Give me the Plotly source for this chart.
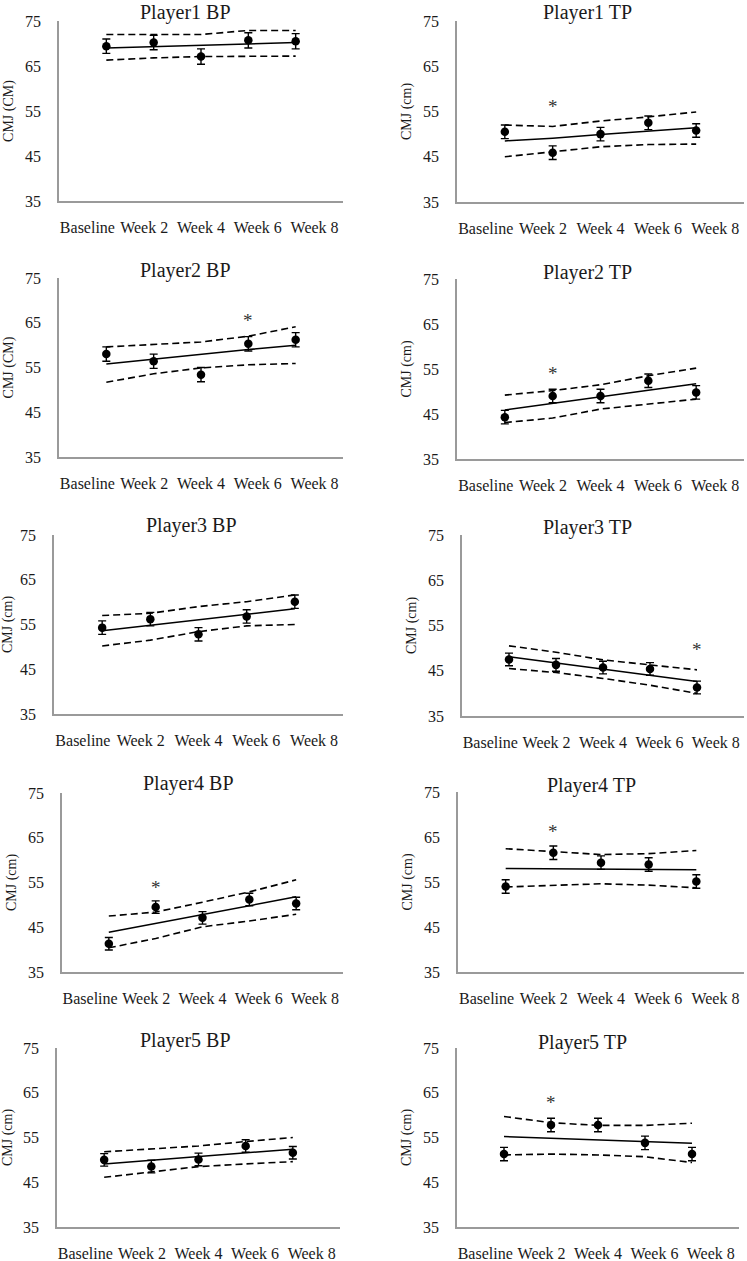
import plotly.graph_objects as go

# ---------------- data ----------------
weeks = ["Baseline", "Week 2", "Week 4", "Week 6", "Week 8"]

panel_titles = ["Player1 BP", "Player1 TP", "Player2 BP", "Player2 TP",
                "Player3 BP", "Player3 TP", "Player4 BP", "Player4 TP",
                "Player5 BP", "Player5 TP"]
y_titles = ["CMJ (CM)", "CMJ (cm)", "CMJ (CM)", "CMJ (cm)", "CMJ (cm)",
            "CMJ (cm)", "CMJ (cm)", "CMJ (cm)", "CMJ (cm)", "CMJ (cm)"]

# mean CMJ per week (cm)
means = [
    [69.4, 70.2, 67.1, 70.7, 70.5],   # Player1 BP
    [50.5, 45.9, 50.0, 52.5, 50.8],   # Player1 TP
    [58.0, 56.4, 53.4, 60.3, 61.2],   # Player2 BP
    [44.3, 49.0, 49.0, 52.4, 49.8],   # Player2 TP
    [54.3, 56.2, 52.8, 56.8, 60.1],   # Player3 BP
    [47.5, 46.3, 45.7, 45.4, 41.3],   # Player3 TP
    [41.3, 49.5, 47.1, 51.2, 50.3],   # Player4 BP
    [54.0, 61.5, 59.3, 58.9, 55.1],   # Player4 TP
    [50.0, 48.5, 50.1, 53.1, 51.6],   # Player5 BP
    [51.3, 57.8, 57.8, 53.8, 51.3],   # Player5 TP
]
# error (+/-)
errors = [
    [1.6, 1.6, 1.7, 1.7, 1.7],
    [1.5, 1.5, 1.5, 1.5, 1.5],
    [1.6, 1.6, 1.6, 1.6, 1.6],
    [1.5, 1.5, 1.5, 1.5, 1.5],
    [1.5, 1.5, 1.5, 1.5, 1.5],
    [1.4, 1.4, 1.4, 1.4, 1.4],
    [1.4, 1.4, 1.4, 1.4, 1.4],
    [1.5, 1.5, 1.5, 1.5, 1.5],
    [1.4, 1.4, 1.4, 1.4, 1.4],
    [1.5, 1.5, 1.5, 1.5, 1.5],
]
# regression (trend) line
trend = [
    [69.0, 69.3, 69.6, 69.9, 70.2],
    [48.5, 49.1, 49.9, 50.7, 51.4],
    [55.8, 56.9, 57.9, 59.0, 60.0],
    [45.9, 47.4, 48.8, 50.3, 51.7],
    [53.6, 54.8, 56.0, 57.3, 58.5],
    [48.1, 46.7, 45.3, 44.0, 42.6],
    [43.9, 45.9, 47.9, 49.8, 51.8],
    [58.0, 57.9, 57.9, 57.8, 57.7],
    [49.1, 49.9, 50.8, 51.6, 52.4],
    [55.2, 54.8, 54.5, 54.1, 53.7],
]
# upper confidence band
upper = [
    [72.0, 72.0, 72.0, 72.9, 72.9],
    [52.0, 51.7, 52.9, 53.8, 54.9],
    [59.6, 60.1, 60.7, 62.0, 64.1],
    [49.2, 50.2, 51.5, 53.5, 55.2],
    [57.0, 57.5, 59.0, 60.1, 61.6],
    [50.5, 49.1, 47.4, 46.3, 45.2],
    [47.5, 48.4, 50.6, 52.9, 55.6],
    [62.4, 61.7, 61.1, 61.3, 62.0],
    [51.8, 52.4, 53.1, 54.1, 55.0],
    [59.7, 58.3, 57.7, 57.7, 58.2],
]
# lower confidence band
lower = [
    [66.3, 66.8, 67.1, 67.2, 67.2],
    [45.0, 46.1, 47.2, 47.7, 47.8],
    [51.7, 53.6, 54.9, 55.6, 55.9],
    [43.1, 44.1, 46.1, 47.2, 48.3],
    [50.2, 51.5, 53.4, 54.7, 55.0],
    [45.5, 44.6, 43.3, 41.8, 40.0],
    [40.4, 42.5, 45.1, 46.4, 47.9],
    [53.9, 54.3, 54.6, 54.3, 53.7],
    [46.1, 47.3, 48.5, 49.1, 49.6],
    [51.1, 51.3, 51.1, 50.7, 49.4],
]
# significance markers
star_week = [None, "Week 2", "Week 6", "Week 2", None, "Week 8", "Week 2", "Week 2", None, "Week 2"]
star_y = [None, 57.3, 66.7, 55.2, None, 50.9, 55.1, 67.4, None, 64.0]

y_ticks = [35, 45, 55, 65, 75]

# ---------------- layout geometry (pixels) ----------------
W, H = 747, 1261
axis_px = [(59, 343, 21, 201), (457, 744, 21, 202),
           (59, 343, 278, 457), (457, 744, 279, 459),
           (54, 343, 535, 714), (462, 744, 535, 716),
           (62, 343, 793, 972), (458, 744, 792, 972),
           (57, 340, 1048, 1227), (457, 739, 1048, 1227)]
title_px = [(185, 13), (587, 13), (185, 270), (587, 272), (192, 525),
            (587, 527), (188, 783), (591, 785), (185, 1040), (582, 1042)]

FONT = "Liberation Serif, Times New Roman, serif"
INK = "#1a1a1a"
AXIS_COL = "#9a9a9a"

xpos = list(range(len(weeks)))
n_slots = len(weeks)
x_lo, x_hi = -1.0, len(weeks)
slot = (x_hi - x_lo) / n_slots
tick_pos = [x_lo + slot * (k + 0.5) for k in range(n_slots)]

fig = go.Figure()
layout = dict(width=W, height=H, margin=dict(l=0, r=0, t=0, b=0),
              paper_bgcolor="white", plot_bgcolor="white",
              showlegend=False, template="none", annotations=[])

for i in range(len(panel_titles)):
    k = i + 1
    xa = "x" if k == 1 else f"x{k}"
    ya = "y" if k == 1 else f"y{k}"
    x0, x1, yt, yb = axis_px[i]

    # confidence bands
    for band in (upper[i], lower[i]):
        fig.add_trace(go.Scatter(x=xpos, y=band, mode="lines", xaxis=xa, yaxis=ya,
                                 line=dict(color="black", width=1.6, dash="7px,4px"),
                                 hoverinfo="skip"))
    # trend line
    fig.add_trace(go.Scatter(x=xpos, y=trend[i], mode="lines", xaxis=xa, yaxis=ya,
                             line=dict(color="black", width=1.5)))
    # means with error bars
    fig.add_trace(go.Scatter(x=xpos, y=means[i], mode="markers", xaxis=xa, yaxis=ya,
                             marker=dict(color="black", size=8.5),
                             error_y=dict(type="data", array=errors[i], color="black",
                                          thickness=1.4, width=4)))
    # significance star
    if star_week[i] is not None:
        layout["annotations"].append(dict(
            x=weeks.index(star_week[i]), y=star_y[i], xref=xa, yref=ya,
            text="*", showarrow=False, yshift=-5,
            font=dict(family=FONT, size=19, color="#333333")))

    # panel title
    tx, ty = title_px[i]
    layout["annotations"].append(dict(
        x=tx / W, y=1 - ty / H, xref="paper", yref="paper",
        text=panel_titles[i], showarrow=False, xanchor="center", yanchor="middle",
        font=dict(family=FONT, size=20, color=INK)))

    axkey_x = "xaxis" if k == 1 else f"xaxis{k}"
    axkey_y = "yaxis" if k == 1 else f"yaxis{k}"
    layout[axkey_x] = dict(
        domain=[x0 / W, x1 / W], anchor=ya, range=[x_lo, x_hi],
        tickmode="array", tickvals=tick_pos, ticktext=weeks,
        showgrid=False, zeroline=False, showline=True, linecolor=AXIS_COL,
        linewidth=1.5, ticks="", ticklabelstandoff=11, automargin=False,
        tickfont=dict(family=FONT, size=16, color=INK), fixedrange=True)
    layout[axkey_y] = dict(
        domain=[1 - yb / H, 1 - yt / H], anchor=xa, range=[35, 75],
        tickmode="array", tickvals=y_ticks,
        showgrid=False, zeroline=False, showline=True, linecolor=AXIS_COL,
        linewidth=1.5, ticks="", ticklabelstandoff=13, automargin=False,
        tickfont=dict(family=FONT, size=16, color=INK), fixedrange=True,
        title=dict(text=y_titles[i], standoff=8,
                   font=dict(family=FONT, size=14, color=INK)))

fig.update_layout(**layout)
fig.write_html("out.html",
               config={"displayModeBar": False},
               post_script="document.body.style.margin='0';document.body.style.overflow='hidden';")
